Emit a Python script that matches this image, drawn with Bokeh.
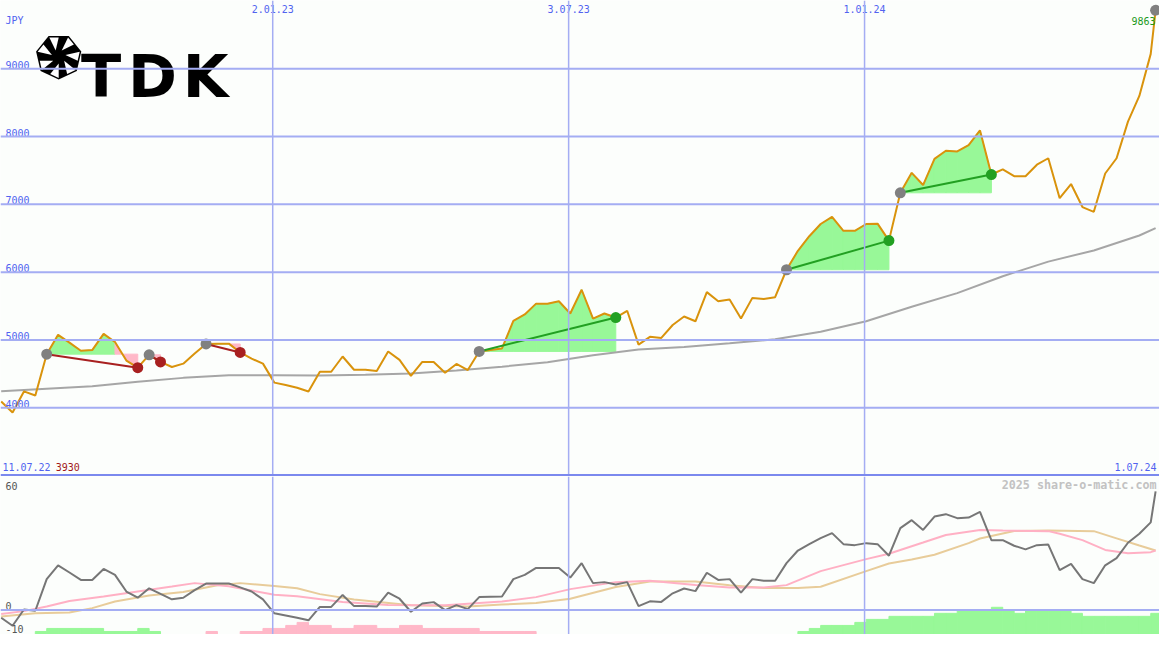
import math
import pandas as pd
from bokeh.plotting import figure
from bokeh.models import Range1d, Span
from bokeh.layouts import column
from bokeh.core.properties import value
from bokeh.embed import file_html
from bokeh.resources import INLINE

# ---------------- data ----------------
base = pd.Timestamp("2022-07-11")
week_dates = list(pd.date_range("2022-07-19", periods=102, freq="7D")) + [pd.Timestamp("2024-06-28")]

price = [4090, 3930, 4240, 4180, 4790, 5075, 4960, 4840, 4850, 5090,
         4970, 4695, 4590, 4780, 4675, 4600, 4650, 4800, 4940, 4945,
         4945, 4815, 4725, 4650, 4370, 4335, 4295, 4240, 4530, 4530,
         4755, 4560, 4560, 4540, 4830, 4705, 4470, 4675, 4675, 4515,
         4645, 4555, 4830, 4850, 4875, 5280, 5375, 5535, 5535, 5570,
         5390, 5740, 5315, 5390, 5330, 5430, 4930, 5045, 5030, 5220,
         5345, 5275, 5705, 5570, 5595, 5315, 5620, 5605, 5630, 6035,
         6315, 6530, 6710, 6815, 6610, 6610, 6710, 6715, 6465, 7170,
         7465, 7285, 7670, 7790, 7780, 7875, 8090, 7440, 7515, 7415,
         7415, 7585, 7680, 7090, 7300, 6960, 6890, 7455, 7680, 8220,
         8600, 9220, 9863]

# long moving average (grey), sampled at week numbers (1-based, 103 = last quote)
ma_week = [1, 5, 9, 13, 17, 21, 25, 29, 33, 37, 41, 45, 49, 53, 57, 61, 65, 69, 73, 77,
           81, 85, 89, 93, 97, 101, 103]
ma_val = [4241, 4280, 4315, 4384, 4440, 4480, 4480, 4476, 4485, 4505, 4550, 4605, 4670,
          4775, 4860, 4895, 4950, 5010, 5120, 5275, 5490, 5690, 5940, 6155, 6320, 6540, 6650]

# trend segments (start week, end week), 1-based
segments = [(5, 13), (14, 15), (19, 22), (43, 55), (70, 79), (80, 88)]

# lower panel: momentum (grey), two averages (pink, tan), signal histogram
momentum = [-3.8, -7.8, 0.3, -0.3, 15.5, 22.4, 18.8, 15.1, 15.1, 20.6,
            17.6, 9.3, 6.2, 10.9, 8.1, 5.4, 6.2, 10.0, 13.3, 13.3,
            13.3, 11.4, 9.3, 5.4, -1.6, -2.7, -3.8, -5.1, 1.6, 1.6,
            7.6, 2.0, 2.0, 1.8, 8.7, 5.7, -0.8, 3.3, 4.0, 0.0,
            2.5, 0.5, 6.5, 6.7, 6.8, 15.5, 17.6, 21.1, 21.1, 21.1,
            16.3, 23.5, 13.5, 14.0, 12.8, 14.0, 2.0, 4.4, 4.1, 8.4,
            10.8, 9.5, 18.7, 15.1, 15.5, 8.7, 15.5, 14.7, 14.7, 23.5,
            29.8, 33.0, 36.0, 38.5, 33.0, 32.5, 33.5, 33.0, 27.2, 41.0,
            45.0, 40.1, 46.8, 48.0, 46.0, 46.3, 49.1, 35.0, 35.0, 32.2,
            30.4, 32.5, 32.8, 20.0, 23.1, 15.5, 13.5, 22.4, 26.0, 33.7,
            38.2, 43.9, 59.4]

pink_week = [1, 3, 5, 7, 10, 13, 16, 18, 21, 23, 25, 27, 31, 35, 40, 45, 48, 51, 55, 58,
             62, 65, 68, 70, 73, 77, 79, 82, 84, 87, 89, 93, 94, 96, 98, 100, 102, 103]
pink_val = [-2.0, -0.5, 1.8, 4.6, 6.8, 9.3, 11.8, 13.5, 11.9, 9.8, 7.7, 6.9, 4.1, 2.5, 2.4,
            4.3, 6.5, 10.5, 14.0, 14.7, 12.6, 11.3, 11.3, 12.5, 19.5, 25.5, 28.2, 33.8, 37.6,
            40.1, 39.8, 39.5, 38.2, 35.0, 30.1, 28.4, 29.0, 29.8]

tan_week = [1, 4, 7, 9, 11, 14, 17, 20, 22, 25, 27, 29, 32, 37, 42, 45, 48, 51, 55, 58,
            62, 65, 68, 71, 73, 77, 79, 81, 83, 86, 87, 90, 93, 97, 99, 101, 103]
tan_val = [-3.2, -1.6, -1.2, 1.0, 4.3, 7.3, 9.1, 12.4, 13.5, 12.1, 10.9, 8.0, 5.3, 2.4, 1.8,
           2.8, 3.6, 5.7, 11.6, 14.3, 14.3, 12.4, 11.1, 11.1, 11.7, 19.5, 23.3, 25.3, 27.7,
           33.5, 35.8, 39.6, 39.8, 39.5, 35.9, 32.3, 29.8]

signal = [0, 0, 0, 1, 2, 2, 2, 2, 2, 1,
          1, 1, 2, 1, 0, 0, 0, 0, -1, 0,
          0, -1, -1, -2, -2, -3, -4, -3, -3, -2,
          -2, -3, -3, -2, -2, -3, -3, -2, -2, -2,
          -2, -2, -1, -1, -1, -1, -1, 0, 0, 0,
          0, 0, 0, 0, 0, 0, 0, 0, 0, 0,
          0, 0, 0, 0, 0, 0, 0, 0, 0, 0,
          1, 2, 3, 3, 3, 4, 5, 5, 6, 6,
          6, 6, 7, 7, 8, 8, 8, 9, 8, 7,
          8, 8, 8, 8, 7, 6, 6, 6, 6, 6,
          6, 7]

y_ticks = [4000, 5000, 6000, 7000, 8000, 9000]
date_ticks = ["2.01.23", "3.07.23", "1.01.24"]
range_start_label = "11.07.22"
range_end_label = "1.07.24"
currency = "JPY"
low_ticks = [60, 0, -10]
credit = "2025 share-o-matic.com"

# ---------------- helpers ----------------
DAY = pd.Timedelta(days=1)
dx = [(d - base) / DAY for d in week_dates]
tick_x = [(pd.to_datetime(s, format="%d.%m.%y") - base) / DAY for s in date_ticks]


def X(px):   # reference pixel column -> day number
    return (px + 12.5) / 1.6484


def YP(py):  # reference pixel row -> price (upper panel)
    return 9000 - (py - 70) * 14.39


def YB(py):  # reference pixel row -> value (lower panel)
    return (625 - py) / 2.05


W, H1, H2 = 1159, 476, 158
BG = "#fcfefc"
GRID = "#a4adf3"
BLUE_T = "#5163f0"
ORANGE = "#d9930c"
GREEN_F = "#98f898"
PINK_F = "#ffb8c8"
GREEN_L = "#22a022"
RED_L = "#a82020"
MONO = value("DejaVu Sans Mono")


def txt(fig, x, y, s, color, size="10px", align="left", baseline="middle", bold=False,
        yoff=0, font=MONO):
    fig.text(x=[x], y=[y], text=[s], text_color=color, text_font=font, text_font_size=size,
             text_align=align, text_baseline=baseline, y_offset=yoff,
             text_font_style="bold" if bold else "normal")


xr = Range1d(X(0), X(1175))

# ---------------- upper panel ----------------
p = figure(width=W, height=H1, x_range=xr, y_range=Range1d(YP(488), YP(0)),
           x_axis_location=None, y_axis_location=None, output_backend="svg",
           toolbar_location=None, tools="", min_border=0,
           background_fill_color=BG, border_fill_color=BG, outline_line_color=None)
p.grid.visible = False

for v in y_ticks:
    p.add_layout(Span(location=v, dimension="width", line_color=GRID, line_width=2))
for t in tick_x:
    p.add_layout(Span(location=t, dimension="height", line_color=GRID, line_width=1.5))
p.add_layout(Span(location=YP(486.8), dimension="width", line_color="#7b89ee", line_width=2.5))

# trend fills
fx, fy, fc = [], [], []
for s, e in segments:
    lvl = price[s - 1]
    for i in range(s - 1, e - 1):
        fx.append([dx[i], dx[i], dx[i + 1], dx[i + 1]])
        fy.append([lvl, price[i], price[i + 1], lvl])
        fc.append(GREEN_F if price[i + 1] >= lvl else PINK_F)
p.patches(fx, fy, fill_color=fc, line_color=fc, line_width=1)

# long moving average
p.line([dx[k - 1] for k in ma_week], ma_val, line_color="#a6a6a6", line_width=2)
# price
p.line(dx, price, line_color=ORANGE, line_width=2)

# trend lines and markers
for s, e in segments:
    up = price[e - 1] > price[s - 1]
    p.line([dx[s - 1], dx[e - 1]], [price[s - 1], price[e - 1]],
           line_color=GREEN_L if up else RED_L, line_width=2)
for s, e in segments:
    up = price[e - 1] > price[s - 1]
    p.scatter([dx[s - 1]], [price[s - 1]], size=11, fill_color="#808080", line_color=None)
    p.scatter([dx[e - 1]], [price[e - 1]], size=11,
              fill_color=GREEN_L if up else RED_L, line_color=None)
p.scatter([dx[-1]], [price[-1]], size=11, fill_color="#808080", line_color=None)

# texts
txt(p, X(5), YP(21), currency, BLUE_T)
for v in y_ticks:
    txt(p, X(5), v, str(v), BLUE_T, baseline="bottom")
for t, s in zip(tick_x, date_ticks):
    txt(p, t, YP(9), s, BLUE_T, align="center")
txt(p, X(2), YP(478.5), range_start_label, BLUE_T)
txt(p, X(56), YP(478.5), str(min(price)), "#a01818")
txt(p, X(1172), YP(478.5), range_end_label, BLUE_T, align="right")
txt(p, X(1171), YP(21), str(price[-1]), "#1c9a1c", align="right")

# logo: emblem (flat-topped heptagon with white triangles) + letters
cx, cy, R = 59, 57.5, 23.5
verts = [(cx + R * math.sin(math.pi + 2 * math.pi * j / 7),
          cy - R * math.cos(math.pi + 2 * math.pi * j / 7)) for j in range(7)]
p.patch([X(a) for a, b in verts], [YP(b) for a, b in verts], fill_color="black", line_color=None)
wx, wy = [], []
for j in range(7):
    a1, b1 = verts[j]
    a2, b2 = verts[(j + 1) % 7]
    ma_, mb_ = (a1 + a2) / 2, (b1 + b2) / 2
    qa, qb = cx + 0.3 * (a1 - cx), cy + 0.3 * (b1 - cy)
    ea, eb = cx + 0.93 * (a1 - cx), cy + 0.93 * (b1 - cy)
    fa, fb = cx + 0.93 * (ma_ - cx), cy + 0.93 * (mb_ - cy)
    wx.append([X(qa), X(ea), X(fa)])
    wy.append([YP(qb), YP(eb), YP(fb)])
p.patches(wx, wy, fill_color="white", line_color=None)
for ch, c in zip("TDK", [102, 154, 208]):
    txt(p, X(c), YP(77.5), ch, "black", size="59px", align="center", baseline="alphabetic",
        bold=True, font=value("DejaVu Sans"))

# ---------------- lower panel ----------------
p2 = figure(width=W, height=H2, x_range=xr, y_range=Range1d(YB(650), YB(488)),
            x_axis_location=None, y_axis_location=None, output_backend="svg",
            toolbar_location=None, tools="", min_border=0,
            background_fill_color=BG, border_fill_color=BG, outline_line_color=None)
p2.grid.visible = False
p2.extra_y_ranges = {"hist": Range1d(0, 162 / 3.1)}

for t in tick_x:
    p2.add_layout(Span(location=t, dimension="height", line_color=GRID, line_width=1.5))
p2.add_layout(Span(location=0, dimension="width", line_color=GRID, line_width=2))

hl = [dx[i] for i, h in enumerate(signal) if h != 0]
hr = [dx[i] + 7 for i, h in enumerate(signal) if h != 0]
ht = [abs(h) for h in signal if h != 0]
hc = [GREEN_F if h > 0 else PINK_F for h in signal if h != 0]
p2.quad(left=hl, right=hr, bottom=0, top=ht, fill_color=hc, line_color=hc, line_width=1,
        y_range_name="hist")

p2.line([dx[k - 1] for k in tan_week], tan_val, line_color="#e8cc9a", line_width=2)
p2.line([dx[k - 1] for k in pink_week], pink_val, line_color="#ffb0c4", line_width=2)
p2.line(dx, momentum, line_color="#767676", line_width=2)

for v in low_ticks:
    txt(p2, X(5), v, str(v), "#555555", baseline="bottom", yoff=(3 if v < 0 else 0))
txt(p2, X(1172), YB(496.3), credit, "#c2c2c2", size="11.7px", align="right", bold=True)

layout = column(p, p2, spacing=0)
open("out.html", "w").write(file_html(layout, INLINE))
